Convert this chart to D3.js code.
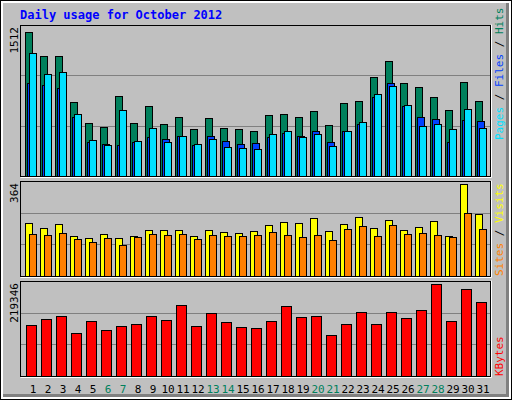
<!DOCTYPE html>
<html>
<head>
<script src="https://d3js.org/d3.v7.min.js"></script>
<style>body{margin:0;background:#fff} text{font-family:"DejaVu Sans Mono",monospace}</style>
</head>
<body>
<svg width="512" height="400"></svg>
<script>
var days = d3.range(1, 32);
var weekend = [6, 7, 13, 14, 20, 21, 27, 28];
var hits  = [1482,1230,1230,766,544,504,827,544,716,534,605,484,595,494,484,464,625,635,605,665,524,756,776,1018,1179,958,917,816,675,968,776];
var files = [958,937,907,605,353,333,323,353,403,383,413,323,413,363,333,343,403,444,413,464,353,464,534,816,958,716,605,585,353,575,564];
var pages = [1270,1048,1069,635,373,323,675,363,494,353,413,333,383,302,292,282,433,464,403,433,312,464,554,847,927,726,514,534,484,685,494];
var visits = [209,189,205,158,150,165,150,158,181,181,181,158,181,173,169,177,201,213,209,229,177,205,233,189,221,181,193,217,158,364,245];
var sites  = [165,161,169,146,134,150,122,154,165,161,165,146,161,158,158,161,173,161,154,161,142,185,197,158,201,165,169,161,154,249,185];
var kbytes = [120876,135285,142489,101664,130482,108868,118474,123277,142489,132883,168906,118474,149694,128080,116073,113671,130482,166504,140088,142489,96861,123277,152095,123277,152095,137686,156898,219346,130482,207330,176110];

var svg = d3.select("svg");
// frame / bevel
svg.append("rect").attr("x",0).attr("y",0).attr("width",512).attr("height",400).attr("fill","#000");
svg.append("rect").attr("x",1).attr("y",1).attr("width",510).attr("height",398).attr("fill","#fff");
svg.append("rect").attr("x",3).attr("y",3).attr("width",506).attr("height",394).attr("fill","#808080");
svg.append("rect").attr("x",3).attr("y",3).attr("width",503).attr("height",391).attr("fill","#c0c0c0");

svg.append("text").attr("x",20).attr("y",19).attr("fill","#0000ff").attr("font-weight","bold")
  .attr("font-size","12px").text("Daily usage for October 2012");

var x = d3.scaleLinear().domain([1, 32]).range([25, 490]);

function panel(top, bottom, max, maxTop) {
  svg.append("rect").attr("x",20.5).attr("y",top+0.5).attr("width",470).attr("height",bottom-top)
    .attr("fill","#c0c0c0").attr("stroke","#000");
  svg.append("path").attr("d","M20.5,"+(bottom+1.5)+"H491.5V"+(top-0.5)).attr("stroke","#fff").attr("fill","none");
  [1/3, 2/3].forEach(function(f) {
    var gy = Math.round(top + (bottom - top) * f) + 0.5;
    svg.append("line").attr("x1",21).attr("x2",490).attr("y1",gy).attr("y2",gy).attr("stroke","#808080");
  });
  svg.append("text").attr("transform","translate(18,"+(top+2)+") rotate(-90)").attr("text-anchor","end")
    .attr("font-size","11px").attr("fill","#000").text(max);
  return d3.scaleLinear().domain([0, max]).range([bottom, maxTop]);
}

function bars(y, data, off, w, color) {
  svg.append("g").selectAll("rect").data(data).enter().append("rect")
    .attr("x", function(d, i) { return x(i + 1) + off + 0.5; })
    .attr("y", function(d) { return Math.round(y(d)) + 0.5; })
    .attr("width", w)
    .attr("height", function(d) { return y(0) - Math.round(y(d)); })
    .attr("fill", color).attr("stroke", "#000");
}

var y1 = panel(25, 176, 1512, 29);
bars(y1, hits, 0, 7, "#00805c");
bars(y1, files, 2, 7, "#0040ff");
bars(y1, pages, 4, 7, "#00e0ff");

var y2 = panel(181, 276, 364, 184);
bars(y2, visits, 0, 7, "#ffff00");
bars(y2, sites, 4, 7, "#ff8000");

var y3 = panel(281, 376, 219346, 284);
bars(y3, kbytes, 1, 10, "#ff0000");

svg.append("g").selectAll("text").data(days).enter().append("text")
  .attr("x", function(d) { return x(d) + 8; }).attr("y", 393).attr("text-anchor","middle")
  .attr("font-size","11px")
  .attr("fill", function(d) { return weekend.indexOf(d) >= 0 ? "#00805c" : "#000"; })
  .text(function(d) { return d; });

function sideLabel(yEnd, parts) {
  var t = svg.append("text").attr("transform","translate(503,"+yEnd+") rotate(-90)").attr("font-size","11px");
  parts.forEach(function(p) { t.append("tspan").attr("fill", p[1]).text(p[0]); });
}
sideLabel(140, [["Pages","#00e0ff"],[" / ","#000"],["Files","#0040ff"],[" / ","#000"],["Hits","#00805c"]]);
sideLabel(276, [["Sites","#ff8000"],[" / ","#000"],["Visits","#ffff00"]]);
sideLabel(376, [["KBytes","#ff0000"]]);
</script>
</body>
</html>
